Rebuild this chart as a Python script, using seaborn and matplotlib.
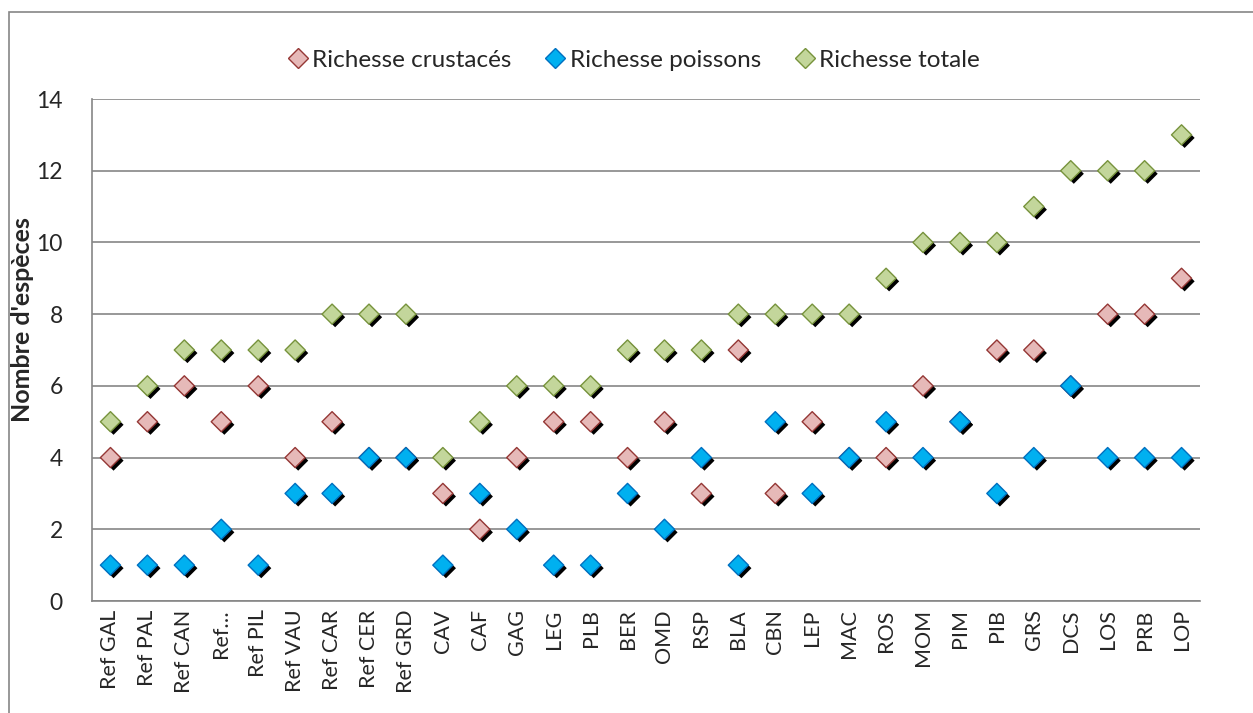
import pandas as pd
import matplotlib
matplotlib.use("Agg")
import matplotlib.pyplot as plt
import matplotlib.patheffects as pe
from matplotlib.patches import Rectangle
from matplotlib.lines import Line2D
import seaborn as sns

# data
sites = ["Ref GAL", "Ref PAL", "Ref CAN", "Ref\u2026", "Ref PIL", "Ref VAU", "Ref CAR",
         "Ref CER", "Ref GRD", "CAV", "CAF", "GAG", "LEG", "PLB", "BER", "OMD", "RSP",
         "BLA", "CBN", "LEP", "MAC", "ROS", "MOM", "PIM", "PIB", "GRS", "DCS", "LOS",
         "PRB", "LOP"]
crustaces = [4, 5, 6, 5, 6, 4, 5, 4, 4, 3, 2, 4, 5, 5, 4, 5, 3, 7, 3, 5, 4, 4, 6, 5,
             7, 7, 6, 8, 8, 9]
poissons = [1, 1, 1, 2, 1, 3, 3, 4, 4, 1, 3, 2, 1, 1, 3, 2, 4, 1, 5, 3, 4, 5, 4, 5,
            3, 4, 6, 4, 4, 4]
totale = [5, 6, 7, 7, 7, 7, 8, 8, 8, 4, 5, 6, 6, 6, 7, 7, 7, 8, 8, 8, 8, 9, 10, 10,
          10, 11, 12, 12, 12, 13]

series = ["Richesse crustacés", "Richesse poissons", "Richesse totale"]
faces = {"Richesse crustacés": "#E6B9B8",
         "Richesse poissons": "#00B0F0",
         "Richesse totale": "#C3D69B"}
edges = {"Richesse crustacés": "#953735",
         "Richesse poissons": "#0070C0",
         "Richesse totale": "#77933C"}

df = pd.DataFrame({"site": sites, series[0]: crustaces,
                   series[1]: poissons, series[2]: totale})
long_df = df.melt(id_vars="site", var_name="serie", value_name="n")
long_df["pos"] = long_df["site"].map({s: i for i, s in enumerate(sites)})

sns.set_style("white")
plt.rcParams["font.family"] = ["Lato", "DejaVu Sans"]

fig = plt.figure(figsize=(12.53, 7.13), dpi=100)
ax = fig.add_axes([92 / 1253, 1 - 601 / 713, (1200 - 92) / 1253, (601 - 99) / 713])

# outer chart frame
fig.patches.append(Rectangle((9 / 1253, -0.05), 1.1, 1 - 12 / 713 + 0.05,
                             transform=fig.transFigure, fill=False,
                             edgecolor="#868686", lw=1.2, zorder=0))

shadow = [pe.SimplePatchShadow(offset=(2.2, -2.2), shadow_rgbFace="black", alpha=1.0),
          pe.Normal()]

for name in series:
    sub = long_df[long_df["serie"] == name]
    sns.scatterplot(data=sub, x="pos", y="n", ax=ax, marker="D", s=105,
                    color=faces[name], edgecolor=edges[name], linewidth=1.0,
                    zorder=3, legend=False)
for coll in ax.collections:
    coll.set_path_effects(shadow)

ax.set_xlim(-0.5, len(sites) - 0.5)
ax.set_ylim(0, 14)
ax.set_yticks(range(0, 15, 2))
ax.set_xticks(range(len(sites)))
ax.set_xticklabels(sites, rotation=90, fontsize=15.5)
ax.set_xticks([i - 0.5 for i in range(len(sites) + 1)], minor=True)
ax.tick_params(axis="x", which="major", length=0, pad=6)
ax.tick_params(axis="x", which="minor", length=6, width=1.2, color="#868686",
               direction="out")
ax.tick_params(axis="y", length=5, width=1.2, color="#868686", direction="out",
               labelsize=16.5, pad=16)
ax.grid(axis="y", color="#868686", lw=1.2)
ax.set_axisbelow(True)
ax.set_xlabel("")
ax.set_ylabel("Nombre d'espèces", fontsize=18, fontweight="bold")
ax.yaxis.set_label_coords(-0.052, 0.56)

for side in ["top", "right"]:
    ax.spines[side].set_visible(False)
for side in ["left", "bottom"]:
    ax.spines[side].set_color("#868686")
    ax.spines[side].set_linewidth(1.2)

handles = [Line2D([], [], ls="", marker="D", markersize=10,
                  markerfacecolor=faces[n], markeredgecolor=edges[n], label=n)
           for n in series]
fig.legend(handles=handles, loc="center", bbox_to_anchor=(0.505, 1 - 60 / 713),
           ncol=3, frameon=False, fontsize=17.5, handletextpad=0.1,
           columnspacing=1.3, handlelength=1.0)

fig.savefig("out.png", dpi=100)
